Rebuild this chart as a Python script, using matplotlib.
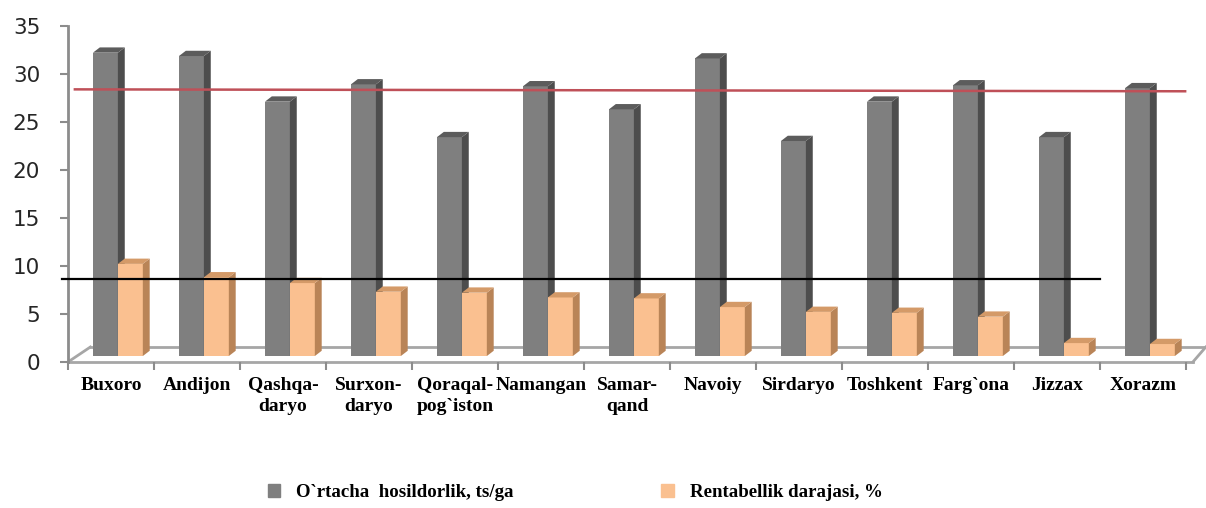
import numpy as np
import matplotlib
matplotlib.use("Agg")
from matplotlib import pyplot as plt
from matplotlib.patches import Polygon, Patch

# data
regions = ["Buxoro", "Andijon", "Qashqa-\ndaryo", "Surxon-\ndaryo", "Qoraqal-\npog`iston",
           "Namangan", "Samar-\nqand", "Navoiy", "Sirdaryo", "Toshkent", "Farg`ona",
           "Jizzax", "Xorazm"]
yield_ts = [31.6, 31.25, 26.5, 28.3, 22.8, 28.1, 25.7, 31.0, 22.4, 26.5, 28.2, 22.8, 27.9]
profit_pct = [9.6, 8.2, 7.6, 6.7, 6.6, 6.1, 6.0, 5.1, 4.6, 4.5, 4.1, 1.35, 1.25]
yield_avg_line = [28.4, 28.2]
profit_avg_line = [8.65, 8.65]
legend_labels = ["O`rtacha  hosildorlik, ts/ga", "Rentabellik darajasi, %"]

gray = dict(front="#7f7f7f", side="#4d4d4d", top="#5c5c5c")
orange = dict(front="#fac090", side="#b98457", top="#d49a68")

fig = plt.figure(figsize=(12.06, 5.08), dpi=100)
ax = fig.add_axes([68 / 1206, 146 / 508, 1118 / 1206, 336 / 508])
ax.set_xlim(-0.5, 12.5)
ax.set_ylim(0, 35)

x = np.arange(len(regions))
w = 0.29
dx, dy = 0.08, 0.55      # fake 3D depth
base = 0.62              # bars stand in the middle of the floor


def bar3d(xs, vals, col):
    bars = ax.bar(xs, vals, w, bottom=base, align="edge", color=col["front"],
                  linewidth=0, zorder=3)
    for b in bars:
        x0, x1 = b.get_x(), b.get_x() + b.get_width()
        y0, y1 = b.get_y(), b.get_y() + b.get_height()
        ax.add_patch(Polygon([(x1, y0), (x1 + dx, y0 + dy), (x1 + dx, y1 + dy), (x1, y1)],
                             closed=True, color=col["side"], lw=0, zorder=3))
        ax.add_patch(Polygon([(x0, y1), (x1, y1), (x1 + dx, y1 + dy), (x0 + dx, y1 + dy)],
                             closed=True, color=col["top"], lw=0, zorder=3))


bar3d(x - 0.21, yield_ts, gray)
bar3d(x + 0.08, profit_pct, orange)

# floor
fl = dict(color="#a6a6a6", lw=2, clip_on=False, zorder=1)
ax.plot([-0.5, 12.58], [0, 0], **fl)
ax.plot([-0.5, -0.24], [0, 1.56], **fl)
ax.plot([-0.24, 12.73], [1.56, 1.56], **fl)
ax.plot([12.58, 12.73], [0, 1.56], **fl)

# hand drawn average lines
ax.plot([-0.42, 12.49], yield_avg_line, color="#bf5058", lw=1.8, clip_on=False, zorder=5)
ax.plot([-0.57, 11.5], profit_avg_line, color="black", lw=1.6, clip_on=False, zorder=5)

for s in ["top", "right", "bottom"]:
    ax.spines[s].set_visible(False)
ax.spines["left"].set_color("#8c8c8c")
ax.spines["left"].set_linewidth(2)

ax.set_yticks(np.arange(0, 36, 5))
ax.tick_params(axis="y", length=6, width=1.5, color="#8c8c8c", pad=14,
               labelsize=15.5, labelcolor="#262626")
ax.set_xticks(np.arange(-0.5, 13, 1), minor=True)
ax.set_xticks(x)
ax.set_xticklabels(regions, fontfamily="Liberation Serif", fontweight="bold",
                   fontsize=14, linespacing=1.3, va="top")
ax.tick_params(axis="x", which="major", length=0, pad=11)
ax.tick_params(axis="x", which="minor", length=6, width=1.5, color="#8c8c8c")

handles = [Patch(color=gray["front"]), Patch(color=orange["front"])]
fig.legend(handles, legend_labels, loc="center", bbox_to_anchor=(0.477, 0.03), ncol=2,
           frameon=False, handlelength=0.65, handleheight=0.65, handletextpad=0.85,
           columnspacing=7.8, prop=dict(family="Liberation Serif", weight="bold", size=13.6))

fig.savefig("out.png", dpi=100)
